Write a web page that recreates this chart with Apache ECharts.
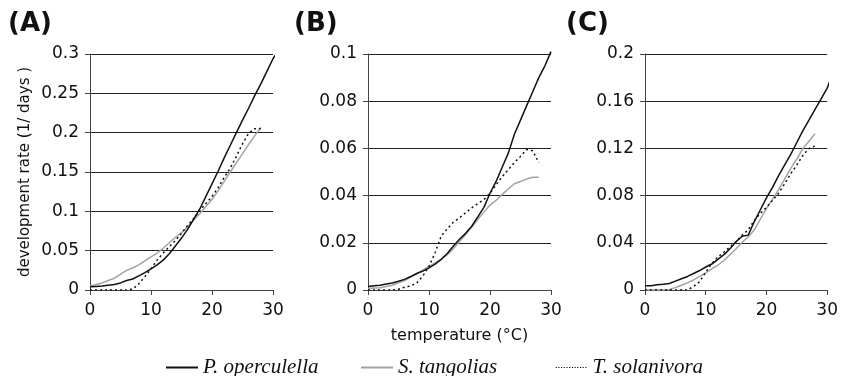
<!DOCTYPE html>
<html>
<head>
<meta charset="utf-8">
<script src="https://cdn.jsdelivr.net/npm/echarts@6/dist/echarts.min.js"></script>
<style>html,body{margin:0;padding:0;background:#fff}#c{width:841px;height:376px}</style>
</head>
<body>
<div id="c"></div>
<script>
// ---- data ----
const panelTitles = ['(A)', '(B)', '(C)'];
const seriesNames = ['P. operculella', 'S. tangolias', 'T. solanivora'];
const xTicks = [0, 10, 20, 30];
const yMax = [0.3, 0.1, 0.2];
const yStep = [0.05, 0.02, 0.04];
const xAxisTitle = 'temperature (°C)';
const yAxisTitle = 'development rate (1/ days )';

const tempsLong = [0,1,2,3,4,5,6,7,8,9,10,11,12,13,14,15,16,17,18,19,20,21,22,23,24,25,26,27,28,29,30];
const temps28 = [0,1,2,3,4,5,6,7,8,9,10,11,12,13,14,15,16,17,18,19,20,21,22,23,24,25,26,27,28];

// Panel A
const tempsA_oper = tempsLong.concat([31]);
const A_oper = [0.004,0.0045,0.005,0.006,0.007,0.009,0.012,0.014,0.018,0.022,0.027,0.032,0.038,0.046,0.056,0.066,0.077,0.09,0.103,0.119,0.135,0.151,0.168,0.184,0.2,0.216,0.231,0.247,0.262,0.278,0.294,0.306];
const A_tang = [0.005,0.007,0.009,0.012,0.015,0.02,0.025,0.028,0.032,0.037,0.042,0.047,0.053,0.06,0.067,0.073,0.08,0.089,0.097,0.106,0.115,0.126,0.138,0.15,0.162,0.173,0.185,0.196,0.207];
const A_sola = [0,0,0,0,0,0,0,0.001,0.008,0.017,0.027,0.038,0.047,0.055,0.063,0.072,0.082,0.091,0.101,0.11,0.119,0.13,0.143,0.155,0.17,0.186,0.199,0.205,0.205];

// Panel B
const tempsB_oper = tempsLong;
const B_oper = [0.0015,0.0018,0.002,0.0025,0.003,0.0037,0.0045,0.0057,0.007,0.008,0.0094,0.011,0.013,0.0155,0.0186,0.0215,0.024,0.027,0.031,0.035,0.041,0.046,0.052,0.058,0.066,0.072,0.078,0.084,0.09,0.095,0.101];
const B_tang = [0.0006,0.0008,0.001,0.0015,0.002,0.003,0.004,0.0055,0.007,0.0085,0.01,0.0115,0.013,0.015,0.0175,0.0205,0.0235,0.0267,0.03,0.033,0.036,0.038,0.0405,0.0428,0.045,0.046,0.047,0.0478,0.0478];
const B_sola = [0,0,0,0,0,0.0003,0.0012,0.0017,0.003,0.006,0.01,0.0158,0.0228,0.026,0.0287,0.0306,0.0327,0.0348,0.0366,0.0383,0.041,0.0446,0.048,0.051,0.054,0.0566,0.0595,0.059,0.054];

// Panel C
const tempsC_oper = tempsLong.concat([30.5]);
const C_oper = [0.0037,0.0037,0.0045,0.0048,0.0055,0.0075,0.0095,0.0115,0.014,0.0165,0.0195,0.022,0.026,0.03,0.035,0.041,0.0455,0.0465,0.058,0.068,0.078,0.087,0.097,0.106,0.115,0.125,0.135,0.144,0.153,0.162,0.171,0.178];
const C_tang = [0,0,0,0,0.0005,0.002,0.004,0.006,0.0085,0.0115,0.0146,0.018,0.021,0.025,0.03,0.035,0.0405,0.045,0.051,0.06,0.069,0.077,0.085,0.094,0.103,0.111,0.12,0.126,0.1325];
const C_sola = [0,0,0,0,0,0,0,0,0.003,0.007,0.015,0.0225,0.028,0.032,0.0366,0.041,0.0465,0.051,0.059,0.065,0.07,0.076,0.082,0.09,0.0986,0.106,0.114,0.12,0.122];

const panels = [
  {oper:[tempsA_oper, A_oper], tang:[temps28, A_tang], sola:[temps28, A_sola]},
  {oper:[tempsB_oper, B_oper], tang:[temps28, B_tang], sola:[temps28, B_sola]},
  {oper:[tempsC_oper, C_oper], tang:[temps28, C_tang], sola:[temps28, C_sola]}
];

// ---- chart ----
const SANS = 'DejaVu Sans';
const gridLefts = [90, 368, 645];
const gridW = 183;
const zip = (xs, ys) => xs.map((x, i) => [x, ys[i]]);

const grids = [], xAxes = [], yAxes = [], series = [], titles = [];
panels.forEach((p, i) => {
  grids.push({left: gridLefts[i], top: 54, width: gridW, height: 236});
  titles.push({text: panelTitles[i], left: [3, 289, 561][i], top: 6,
    textStyle: {fontFamily: SANS, fontWeight: 'bold', fontSize: 26, color: '#111'}});
  xAxes.push({
    gridIndex: i, type: 'value', min: xTicks[0], max: xTicks[xTicks.length-1], interval: 10,
    axisLine: {show: true, onZero: false, lineStyle: {color: '#444', width: 1}},
    axisTick: {show: true, length: 5, lineStyle: {color: '#444'}},
    axisLabel: {fontFamily: SANS, fontSize: 17, color: '#111', margin: 12},
    splitLine: {show: false},
    name: i === 1 ? xAxisTitle : '', nameLocation: 'middle', nameGap: 38,
    nameTextStyle: {fontFamily: SANS, fontSize: 16, color: '#111'}
  });
  yAxes.push({
    gridIndex: i, type: 'value', min: 0, max: yMax[i], interval: yStep[i],
    axisLine: {show: true, lineStyle: {color: '#444', width: 1}},
    axisTick: {show: true, length: 5, lineStyle: {color: '#444'}},
    axisLabel: {fontFamily: SANS, fontSize: 17, color: '#111', margin: 11},
    splitLine: {show: true, lineStyle: {color: '#222', width: 1}},
    name: i === 0 ? yAxisTitle : '', nameLocation: 'middle', nameGap: 57,
    nameTextStyle: {fontFamily: SANS, fontSize: 15, color: '#111'}
  });
  series.push({name: seriesNames[0], type: 'line', xAxisIndex: i, yAxisIndex: i, data: zip(p.oper[0], p.oper[1]),
    symbol: 'none', clip: false, lineStyle: {color: '#111', width: 1.5}, itemStyle: {color: '#111'}, z: 3});
  series.push({name: seriesNames[1], type: 'line', xAxisIndex: i, yAxisIndex: i, data: zip(p.tang[0], p.tang[1]),
    symbol: 'none', lineStyle: {color: '#a3a3a3', width: 1.5}, itemStyle: {color: '#a3a3a3'}, z: 2});
  series.push({name: seriesNames[2], type: 'line', xAxisIndex: i, yAxisIndex: i, data: zip(p.sola[0], p.sola[1]),
    symbol: 'none', lineStyle: {color: '#111', width: 1.5, type: [2, 3]}, itemStyle: {color: '#111'}, z: 4});
});

const legendLefts = [160, 355, 550];
const legendLine = [
  {color: '#111', width: 2, type: 'solid'},
  {color: '#a3a3a3', width: 2, type: 'solid'},
  {color: '#111', width: 1.2, type: [1.2, 1.5]}
];
const legends = seriesNames.map((n, k) => ({
  data: [n], left: legendLefts[k], top: 352, itemWidth: 32, itemHeight: 14, selectedMode: false,
  itemStyle: {opacity: 0},
  lineStyle: legendLine[k],
  textStyle: {fontFamily: 'Liberation Serif', fontStyle: 'italic', fontSize: 21, color: '#111'}
}));

const chart = echarts.init(document.getElementById('c'), null, {renderer: 'canvas'});
chart.setOption({
  animation: false,
  backgroundColor: '#fff',
  title: titles,
  legend: legends,
  grid: grids, xAxis: xAxes, yAxis: yAxes, series: series
});
</script>
</body>
</html>
